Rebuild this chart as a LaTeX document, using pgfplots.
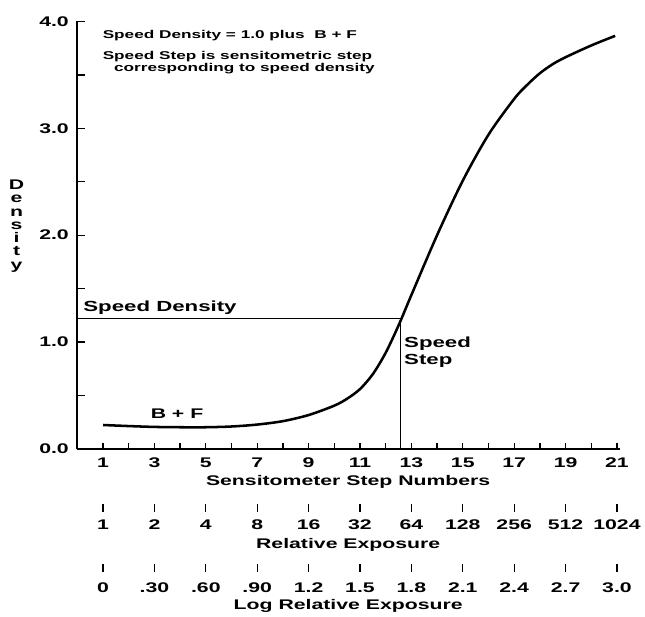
\documentclass[border=0pt]{standalone}
\usepackage{pgfplots}
\pgfplotsset{compat=1.18}
\usepackage{fontspec}
\setmainfont{Liberation Sans}[FakeStretch=1.52]

\newcommand{\lbl}{\fontsize{10.5}{12}\selectfont\bfseries}
\newcommand{\note}{\fontsize{8.5}{10}\selectfont\bfseries}

\pgfplotsset{
  scalerow/.style={
    scale only axis, width=408pt, height=10pt,
    xmin=-0.02, xmax=21.1, ymin=0, ymax=1,
    hide y axis, axis x line*=bottom,
    x axis line style={draw=none},
    tick align=inside,
    major tick length=6pt,
    major x tick style={line width=1pt, black},
    xticklabel style={anchor=base, font=\lbl},
    xlabel style={at={(axis description cs:0.5,0)}, anchor=base, font=\lbl},
  }
}

\begin{document}
\begin{tikzpicture}
\begin{axis}[
  name=main,
  scale only axis, width=408pt, height=321.4pt,
  xmin=-0.02, xmax=21.1, ymin=0, ymax=4,
  axis x line*=bottom, axis y line*=left,
  axis line style={line width=1.1pt},
  clip=false,
  tick align=inside,
  major tick length=6.5pt, minor tick length=6.5pt,
  ytick={0,1,2,3,4}, yticklabels={0.0,1.0,2.0,3.0,4.0},
  minor ytick={0.5,1.5,2.5,3.5},
  y tick style={line width=1pt, black},
  yticklabel style={font=\lbl, xshift=-2.5pt},
  xtick={1,3,...,21},
  xticklabels={1,3,5,7,9,11,13,15,17,19,21},
  x tick style={draw=none},
  xticklabel style={anchor=base, yshift=-14.25pt, font=\lbl},
  xlabel={Sensitometer Step Numbers},
  xlabel style={at={(axis description cs:0.5,0)}, anchor=base, yshift=-27.75pt, font=\lbl},
]
\addplot[line width=0.7pt] coordinates {(-0.02,1.22) (12.58,1.22) (12.58,0)};
\addplot[line width=1.9pt, smooth] coordinates {
  (1,0.224) (2,0.214) (3,0.206) (4,0.203) (5,0.203) (6,0.210) (7,0.228)
  (8,0.260) (9,0.317) (10,0.405) (10.5,0.47) (11,0.56) (11.5,0.70) (12,0.90)
  (12.5,1.155) (13,1.44) (14,2.00) (15,2.51) (16,2.94) (17,3.275)
  (17.5,3.405) (18,3.515) (18.5,3.60) (19,3.665) (20,3.775) (20.93,3.865)
};
\node[anchor=base west, inner sep=0, font=\note] at (axis cs:0.98,3.844)
  {Speed Density = 1.0 plus\ \ B + F};
\node[anchor=base west, inner sep=0, font=\note] at (axis cs:0.98,3.641)
  {Speed Step is sensitometric step};
\node[anchor=base west, inner sep=0, font=\note] at (axis cs:1.42,3.532)
  {corresponding to speed density};
\node[anchor=base west, inner sep=0, font=\fontsize{11}{12}\selectfont\bfseries] at (axis cs:0.225,1.286)
  {Speed Density};
\node[anchor=base west, inner sep=0, font=\fontsize{11}{12}\selectfont\bfseries] at (axis cs:12.71,0.952)
  {Speed};
\node[anchor=base west, inner sep=0, font=\fontsize{11}{12}\selectfont\bfseries] at (axis cs:12.71,0.794)
  {Step};
\node[anchor=base, inner sep=0, font=\lbl] at (axis cs:3.88,0.285) {B + F};
\node[anchor=north, align=center, inner sep=0, font=\fontsize{10.5}{10}\selectfont\bfseries]
  at (rel axis cs:-0.111,0.630) {D\\e\\n\\s\\i\\t\\y};
\end{axis}

% minor and major step ticks along the bottom axis
\begin{axis}[scalerow, at={(main.south west)}, anchor=south west,
  major tick length=4.5pt, minor tick length=4.5pt,
  xtick={1,3,...,21}, xticklabels={}, minor xtick={2,4,...,20},
  minor x tick style={line width=1pt, black}]
\end{axis}

\begin{axis}[scalerow, at={(main.south west)}, anchor=south west, yshift=-47.25pt,
  xtick={1,3,...,21},
  xticklabels={1,2,4,8,16,32,64,128,256,512,1024},
  xticklabel style={yshift=-13.5pt},
  xlabel={Relative Exposure}, xlabel style={yshift=-27.75pt}]
\end{axis}

\begin{axis}[scalerow, at={(main.south west)}, anchor=south west, yshift=-92.25pt,
  xtick={1,3,...,21},
  xticklabels={0,.30,.60,.90,1.2,1.5,1.8,2.1,2.4,2.7,3.0},
  xticklabel style={yshift=-15.4pt},
  xlabel={Log Relative Exposure}, xlabel style={yshift=-28.5pt}]
\end{axis}

\path (main.south west) ++(-57.75pt,-123.75pt) rectangle ++(483.75pt,461.25pt);
\end{tikzpicture}
\end{document}
